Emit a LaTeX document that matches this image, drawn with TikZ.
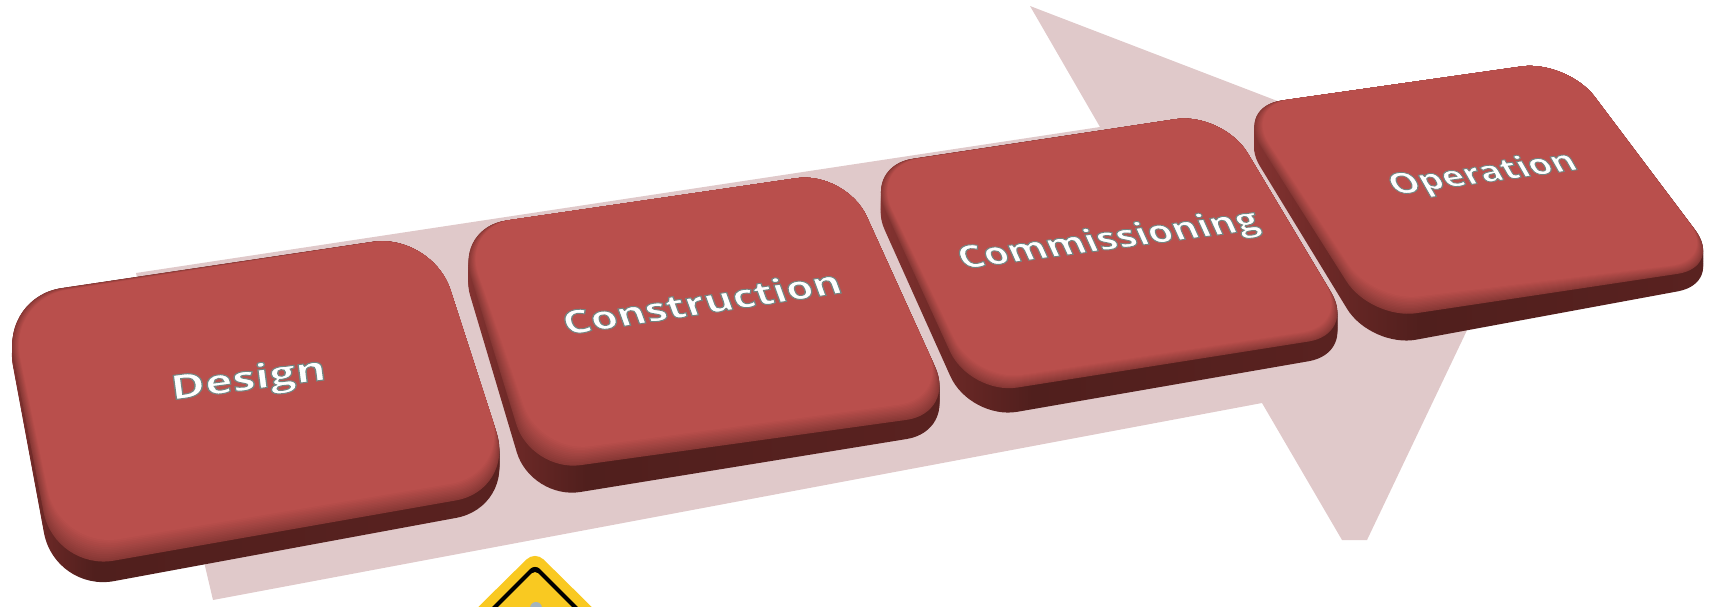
\documentclass[tikz,border=0pt]{standalone}
\usepackage{fontspec}
\setmainfont{Open Sans}[BoldFeatures={FakeBold=3}]
\usetikzlibrary{calc}
\definecolor{arrowc}{HTML}{E0C9CA}
\definecolor{facec}{HTML}{B94F4C}
\definecolor{bevelc}{HTML}{873835}
\definecolor{sidea}{HTML}{8A3634}
\definecolor{sideb}{HTML}{702A28}
\definecolor{sidec}{HTML}{501F1D}
\definecolor{sided}{HTML}{5A2220}
\definecolor{signy}{HTML}{F9C921}
\definecolor{signg}{HTML}{A3B3BE}
\newcommand{\mkside}[3]{\pgfdeclarehorizontalshading{side#1}{100bp}{color(0bp)=(sidea); color(25bp)=(sidea); color(#2bp)=(sideb); color(#3bp)=(sidec); color(75bp)=(sided); color(100bp)=(sided)}}
\mkside{D}{28}{34}
\mkside{C}{30}{38}
\mkside{M}{32}{42}
\mkside{O}{33}{44}
% white letters with a grey rim: only the stroke colour is changed
\newcommand{\rimtext}[1]{\special{pdf:code 0.45 0.52 0.51 RG}#1}
% #1 block name, #2 corner radius, #3/#4/#5 depth of the side under corners a, c, d
\newcommand{\keycap}[5]{%
  \foreach \ki in {10,9,...,0}{%
    \pgfmathsetmacro\kt{\ki/10}%
    \shade[shading=side#1,rounded corners=#2pt]
      ($(#1-a)+(0,\kt*#3)$) -- ($(#1-b)+(0,\kt*#4)$) -- ($(#1-c)+(0,\kt*#4)$) -- ($(#1-d)+(0,\kt*#5)$) -- cycle;
  }%
  \foreach \ki in {12,11,...,0}{%
    \pgfmathsetmacro\kt{\ki/12}%
    \pgfmathtruncatemacro\kp{100*\ki/12}%
    \fill[bevelc!\kp!facec,rounded corners=#2pt]
      ($(#1-fa)!\kt!(#1-a)$) -- ($(#1-fb)!\kt!(#1-b)$) -- ($(#1-fc)!\kt!(#1-c)$) -- ($(#1-fd)!\kt!(#1-d)$) -- cycle;
  }%
}
\tikzset{
  arrowshape/.style={fill=arrowc},
  captext/.style={anchor=base west,inner sep=0pt,text=white},
}
\begin{document}
\begin{tikzpicture}[x=1pt,y=-1pt]
\useasboundingbox (0,0) rectangle (1710,606);
\clip (0,0) rectangle (1710,606);
% big arrow
\fill[arrowshape] (136,273) -- (1100,127) -- (1030,6) -- (1530,198) -- (1367,540) -- (1342,540) -- (1262,403) -- (213,600) -- cycle;
% warning sign, cut by the lower edge
\fill[signy,rounded corners=12pt] (535,551) -- (610,625) -- (460,625) -- cycle;
\fill[black,rounded corners=7pt] (535,564) -- (597,626) -- (473,626) -- cycle;
\fill[signy,rounded corners=5pt] (535,570) -- (591,626) -- (479,626) -- cycle;
\fill[signg] (536,608) circle (6);
% Design
\coordinate (D-a) at (2,297); \coordinate (D-b) at (432,233); \coordinate (D-c) at (515,490); \coordinate (D-d) at (55,571);
\coordinate (D-fa) at (8,299); \coordinate (D-fb) at (432,233); \coordinate (D-fc) at (510,474); \coordinate (D-fd) at (60,549);
\keycap{D}{60}{10}{17}{21}
% Construction
\coordinate (C-a) at (456,228); \coordinate (C-b) at (846,171); \coordinate (C-c) at (956,413); \coordinate (C-d) at (531,472);
\coordinate (C-fa) at (462,227); \coordinate (C-fb) at (846,171); \coordinate (C-fc) at (949,398); \coordinate (C-fd) at (540,453);
\keycap{C}{50}{20}{18}{28}
% Commissioning
\coordinate (M-a) at (865,166); \coordinate (M-b) at (1223,112); \coordinate (M-c) at (1356,334); \coordinate (M-d) at (970,395);
\coordinate (M-fa) at (871,166); \coordinate (M-fb) at (1223,112); \coordinate (M-fc) at (1350,325); \coordinate (M-fd) at (975,382);
\keycap{M}{48}{20}{19}{25}
% Operation
\coordinate (O-a) at (1236,107); \coordinate (O-b) at (1567,60); \coordinate (O-c) at (1723,267); \coordinate (O-d) at (1371,320);
\coordinate (O-fa) at (1244,106); \coordinate (O-fb) at (1567,60); \coordinate (O-fc) at (1717,260); \coordinate (O-fd) at (1373,302);
\keycap{O}{46}{20}{16}{28}
% labels
\node[captext,rotate=7.5,xscale=1.37,font=\bfseries\fontsize{34}{34}\selectfont] (design) at (172,400) {\rimtext{Design}};
\node[captext,rotate=8.7,xslant=-.2,xscale=1.31,font=\bfseries\fontsize{33}{33}\selectfont] (construction) at (567,335) {\rimtext{Construction}};
\node[captext,rotate=7.6,xslant=-.3,xscale=1.235,font=\bfseries\fontsize{32}{32}\selectfont] (commissioning) at (963,269) {\rimtext{Commissioning}};
\node[captext,rotate=7.9,xslant=-.4,xscale=1.225,font=\bfseries\fontsize{30}{30}\selectfont] (operation) at (1395,195) {\rimtext{Operation}};
\end{tikzpicture}
\end{document}
